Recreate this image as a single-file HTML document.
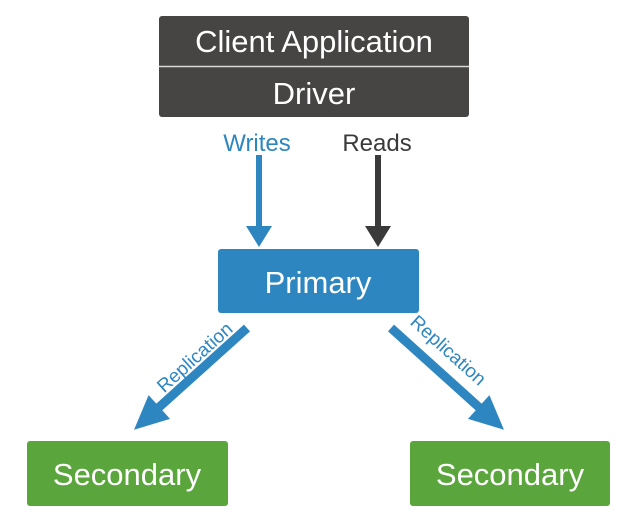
<!DOCTYPE html>
<html><head><style>
html,body{margin:0;padding:0;background:#fff;}
body{width:623px;height:514px;position:relative;overflow:hidden;font-family:"Liberation Sans",sans-serif;}
</style></head><body>
<svg width="623" height="514" viewBox="0 0 623 514" xmlns="http://www.w3.org/2000/svg" style="position:absolute;left:0;top:0">
<rect x="159" y="16" width="310" height="101" rx="3" fill="#464544"/>
<line x1="159" y1="66.5" x2="469" y2="66.5" stroke="#d8d8d8" stroke-width="1.5"/>
<text x="314" y="52" text-anchor="middle" font-size="31" fill="#fff" font-family="Liberation Sans, sans-serif">Client Application</text>
<text x="314" y="104" text-anchor="middle" font-size="31" fill="#fff" font-family="Liberation Sans, sans-serif">Driver</text>
<text x="257" y="151" text-anchor="middle" font-size="24" fill="#2e86c1" font-family="Liberation Sans, sans-serif">Writes</text>
<text x="377" y="151" text-anchor="middle" font-size="24" fill="#3a3a3a" font-family="Liberation Sans, sans-serif">Reads</text>
<rect x="256" y="155" width="6" height="72" fill="#2e86c1"/>
<polygon points="246,226 272,226 259,247" fill="#2e86c1"/>
<rect x="375" y="155" width="6" height="72" fill="#3a3a3a"/>
<polygon points="365,226 391,226 378,247" fill="#3a3a3a"/>
<rect x="218" y="249" width="201" height="64" rx="3" fill="#2e86c1"/>
<text x="318" y="293" text-anchor="middle" font-size="31" fill="#fff" font-family="Liberation Sans, sans-serif">Primary</text>
<g transform="translate(247,328) rotate(138)">
<rect x="0" y="-4.5" width="120" height="9" fill="#2e86c1"/>
<polygon points="118,-16 152,0 118,16" fill="#2e86c1"/>
</g>
<text transform="translate(199,362) rotate(-42)" text-anchor="middle" font-size="19" fill="#2e86c1" font-family="Liberation Sans, sans-serif">Replication</text>
<g transform="translate(391,328) rotate(42)">
<rect x="0" y="-4.5" width="120" height="9" fill="#2e86c1"/>
<polygon points="118,-16 152,0 118,16" fill="#2e86c1"/>
</g>
<text transform="translate(444,355) rotate(42)" text-anchor="middle" font-size="19" fill="#2e86c1" font-family="Liberation Sans, sans-serif">Replication</text>
<rect x="27" y="441" width="201" height="65" rx="3" fill="#5aa63c"/>
<text x="127" y="485" text-anchor="middle" font-size="31" fill="#fff" font-family="Liberation Sans, sans-serif">Secondary</text>
<rect x="410" y="441" width="200" height="65" rx="3" fill="#5aa63c"/>
<text x="510" y="485" text-anchor="middle" font-size="31" fill="#fff" font-family="Liberation Sans, sans-serif">Secondary</text>
</svg>
</body></html>
